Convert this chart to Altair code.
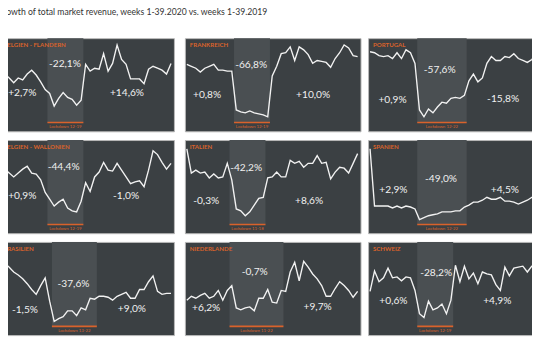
import altair as alt
import pandas as pd

weeks = list(range(1, 40))

countries = ["BELGIEN - FLANDERN", "FRANKREICH", "PORTUGAL",
             "BELGIEN - WALLONIEN", "ITALIEN", "SPANIEN",
             "BRASILIEN", "NIEDERLANDE", "SCHWEIZ"]

# weekly growth index (arbitrary units per panel)
flandern = [59, 59, 55, 50, 55, 53, 59, 63, 58, 51, 43, 39, 26, 34, 40, 35, 33, 27, 32, 69,
            62, 65, 64, 80, 62, 70, 89, 74, 69, 54, 54, 54, 49, 64, 67, 65, 63, 59, 70]
frankreich = [69, 67, 65, 61, 65, 67, 69, 63, 63, 62, 62, 22, 20, 19, 21, 19, 18, 17, 15, 57,
              67, 80, 81, 87, 73, 87, 84, 79, 70, 73, 72, 71, 66, 75, 81, 89, 86, 78, 77]
portugal = [82, 81, 78, 77, 78, 75, 81, 75, 84, 81, 70, 22, 15, 23, 19, 25, 30, 29, 34, 35,
            34, 37, 52, 59, 51, 55, 70, 77, 73, 73, 77, 76, 80, 75, 73, 71, 74, 79, 79]
wallonien = [67, 66, 62, 58, 62, 66, 69, 62, 61, 55, 42, 35, 28, 32, 35, 26, 23, 22, 33, 52,
             43, 58, 63, 73, 65, 64, 72, 65, 58, 51, 53, 54, 48, 65, 85, 81, 73, 66, 72]
italien = [87, 62, 65, 62, 63, 57, 61, 57, 58, 72, 55, 25, 23, 18, 22, 29, 36, 37, 57, 58,
           63, 58, 58, 75, 72, 74, 68, 72, 72, 80, 72, 73, 56, 63, 68, 67, 62, 72, 82]
spanien = [87, 28, 28, 28, 28, 26, 28, 26, 28, 27, 25, 14, 16, 18, 19, 20, 22, 22, 22, 23,
           23, 27, 29, 32, 32, 34, 37, 35, 35, 37, 33, 33, 32, 30, 32, 34, 37, 38, 39]
brasilien = [76, 74, 70, 65, 62, 58, 53, 47, 42, 51, 59, 35, 14, 17, 19, 25, 25, 20, 28, 26,
             38, 37, 40, 40, 39, 36, 40, 42, 44, 38, 38, 47, 47, 55, 61, 45, 42, 43, 43]
niederlande = [36, 40, 38, 41, 43, 38, 40, 46, 36, 46, 51, 28, 26, 28, 29, 25, 38, 38, 47, 34,
               33, 46, 45, 65, 75, 56, 76, 70, 63, 58, 51, 40, 40, 48, 55, 51, 46, 39, 45]
schweiz = [45, 66, 55, 59, 69, 59, 60, 56, 60, 59, 46, 22, 18, 35, 26, 28, 32, 22, 36, 72,
           55, 71, 58, 64, 53, 65, 63, 62, 52, 46, 70, 61, 69, 70, 71, 65, 71, 72, 73]
series = [flandern, frankreich, portugal, wallonien, italien, spanien,
          brasilien, niederlande, schweiz]

lockdown_start = [12, 12, 12, 12, 11, 12, 13, 11, 12]
lockdown_end = [19, 19, 22, 19, 18, 22, 22, 22, 19]

pre_growth = ["+2,7%", "+0,8%", "+0,9%", "+0,9%", "-0,3%", "+2,9%", "-1,5%", "+6,2%", "+0,6%"]
lock_growth = ["-22,1%", "-66,8%", "-57,6%", "-44,4%", "-42,2%", "-49,0%", "-37,6%", "-0,7%", "-28,2%"]
post_growth = ["+14,6%", "+10,0%", "-15,8%", "-1,0%", "+8,6%", "+4,5%", "+9,0%", "+9,7%", "+4,9%"]

# label placement per panel: (pre x, pre y, lock x, lock y, post x, post y)
label_pos = [
    (5.9, 39, 15.4, 69, 29.2, 39),
    (5.5, 37, 15.3, 68, 29.1, 37),
    (6.0, 32, 16.5, 63, 30.6, 33),
    (5.9, 38, 15.1, 68, 29.0, 38),
    (5.3, 33, 14.2, 67, 28.2, 33),
    (6.2, 44, 16.8, 56, 31.0, 44),
    (6.5, 26, 17.3, 53, 30.3, 27),
    (5.3, 28, 16.1, 65, 30.1, 29),
    (6.2, 35, 15.7, 64, 29.3, 35),
]

ORANGE = "#d9622b"
BG = "#3b4043"
SHADE = "#4a4f52"
W, H = 181, 96
FONT = "Lato"

xs = alt.Scale(domain=[0.57, 39.65], nice=False, zero=False)
ys = alt.Scale(domain=[0, 96], nice=False, zero=False)


def panel(i):
    df = pd.DataFrame({"week": weeks, "value": series[i]})
    s, e = lockdown_start[i], lockdown_end[i]
    ld = pd.DataFrame({"x1": [s - 0.5], "x2": [e + 0.5], "y1": [9.0], "y2": [96.0],
                       "mid": [(s + e) / 2.0], "ly": [4.3],
                       "label": [f"Lockdown {s}-{e}"]})
    p = label_pos[i]
    ann = pd.DataFrame({"x": [p[0], p[2], p[4]], "y": [p[1], p[3], p[5]],
                        "text": [pre_growth[i], lock_growth[i], post_growth[i]]})

    shade = alt.Chart(ld).mark_rect(fill=SHADE).encode(
        x=alt.X("x1:Q", scale=xs, axis=None), x2="x2:Q",
        y=alt.Y("y1:Q", scale=ys, axis=None), y2="y2:Q")
    rule = alt.Chart(ld).mark_rule(color=ORANGE, strokeWidth=1.6).encode(
        x=alt.X("x1:Q", scale=xs, axis=None), x2="x2:Q",
        y=alt.Y("y1:Q", scale=ys, axis=None))
    ltext = alt.Chart(ld).mark_text(color=ORANGE, fontSize=4.5, font=FONT,
                                    baseline="middle", align="center").encode(
        x=alt.X("mid:Q", scale=xs, axis=None),
        y=alt.Y("ly:Q", scale=ys, axis=None), text="label:N")
    line = alt.Chart(df).mark_line(color="#f2f2f2", strokeWidth=1.4).encode(
        x=alt.X("week:Q", scale=xs, axis=None),
        y=alt.Y("value:Q", scale=ys, axis=None))
    texts = alt.Chart(ann).mark_text(color="#f0f0f0", fontSize=10.5, font=FONT,
                                     baseline="middle", align="center").encode(
        x=alt.X("x:Q", scale=xs, axis=None),
        y=alt.Y("y:Q", scale=ys, axis=None), text="text:N")
    name = alt.Chart(ld).mark_text(color=ORANGE, fontSize=6.3, font=FONT, fontWeight="bold",
                                   align="left", baseline="middle").encode(
        x=alt.value(5), y=alt.value(7), text=alt.datum(countries[i]))
    return alt.layer(shade, rule, ltext, line, texts, name).properties(width=W, height=H)


def row(r):
    left_pair = alt.hconcat(panel(r * 3), panel(r * 3 + 1), spacing=8.3)
    return alt.hconcat(left_pair, panel(r * 3 + 2), spacing=5.1)


rows = [row(r) for r in range(3)]

chart = alt.vconcat(*rows, spacing=7).properties(
    title=alt.TitleParams(
        "Growth of total market revenue, weeks 1-39.2020 vs. weeks 1-39.2019",
        anchor="start", fontSize=8.9, font=FONT, fontWeight="normal",
        color="#333333", offset=21, dx=0),
    padding={"left": -12, "top": -5, "right": -13, "bottom": 0},
    background="white",
).configure_view(fill=BG, stroke="#b8b8b8", strokeWidth=1)

chart.save("out.html", embed_options={"renderer": "svg", "actions": False})
